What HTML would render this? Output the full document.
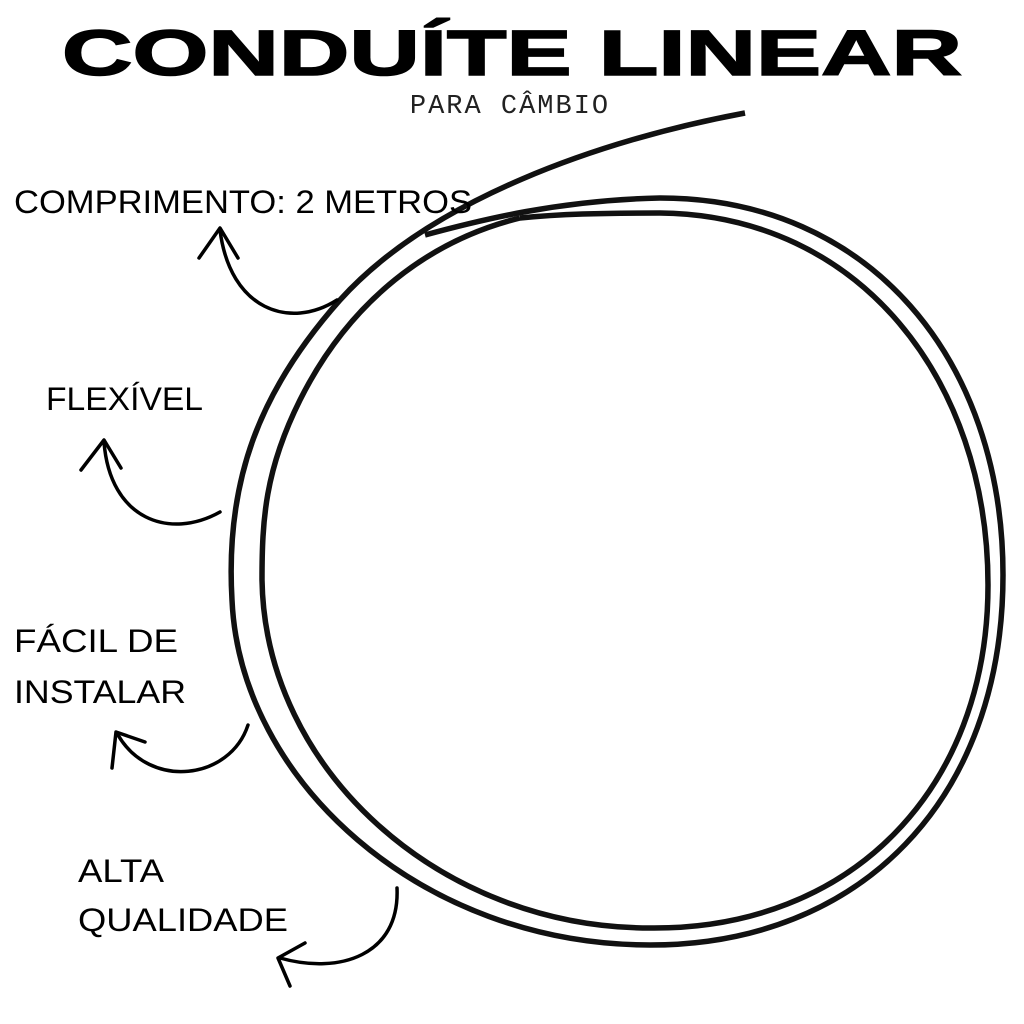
<!DOCTYPE html>
<html><head><meta charset="utf-8"><style>
html,body{margin:0;padding:0;background:#fff;width:1024px;height:1024px;overflow:hidden}
svg{display:block}
.t{font-family:"Liberation Sans",sans-serif;fill:#000}
</style></head><body>
<svg width="1024" height="1024" viewBox="0 0 1024 1024">
<text class="t" x="62" y="75" font-size="64" font-weight="900" stroke="#000" stroke-width="1.5" textLength="900" lengthAdjust="spacingAndGlyphs">CONDUÍTE LINEAR</text>
<text x="510" y="113" text-anchor="middle" font-family="Liberation Mono,monospace" font-size="27" letter-spacing="2" fill="#222">PARA CÂMBIO</text>

<g fill="none" stroke="#111" stroke-width="5.5" stroke-linecap="butt">
<path d="M745,113 C600,140 430,200 340,300 C260,390 225,480 232,600 C240,780 420,945 650,945 C860,945 1003,800 1003,575 C1003,360 870,198 660,198 C560,200 480,220 425,235"/>
<path d="M520,218 C430,240 350,300 300,400 C265,470 262,520 262,580 C265,770 440,928 650,928 C850,930 988,790 988,585 C988,380 860,215 660,213 C600,213 560,214 520,218"/>
</g>

<g class="t" font-size="32">
<text x="14" y="213" textLength="458" lengthAdjust="spacingAndGlyphs">COMPRIMENTO: 2 METROS</text>
<text x="46" y="410" textLength="157" lengthAdjust="spacingAndGlyphs">FLEXÍVEL</text>
<text x="14" y="652" textLength="164" lengthAdjust="spacingAndGlyphs">FÁCIL DE</text>
<text x="14" y="703" textLength="172" lengthAdjust="spacingAndGlyphs">INSTALAR</text>
<text x="78" y="882" textLength="86" lengthAdjust="spacingAndGlyphs">ALTA</text>
<text x="78" y="931" textLength="210" lengthAdjust="spacingAndGlyphs">QUALIDADE</text>
</g>

<g fill="none" stroke="#000" stroke-width="3.5" stroke-linecap="round" stroke-linejoin="round">
<path d="M337,300 C290,330 230,310 220,230"/>
<path d="M199,258 L220,228 L238,258"/>
<path d="M220,512 C170,540 110,520 104,442"/>
<path d="M81,470 L104,440 L121,468"/>
<path d="M248,725 C230,780 150,790 118,735"/>
<path d="M112,768 L116,732 L145,742"/>
<path d="M397,888 C400,955 340,975 280,958"/>
<path d="M290,986 L278,958 L305,943"/>
</g>
</svg>
</body></html>
